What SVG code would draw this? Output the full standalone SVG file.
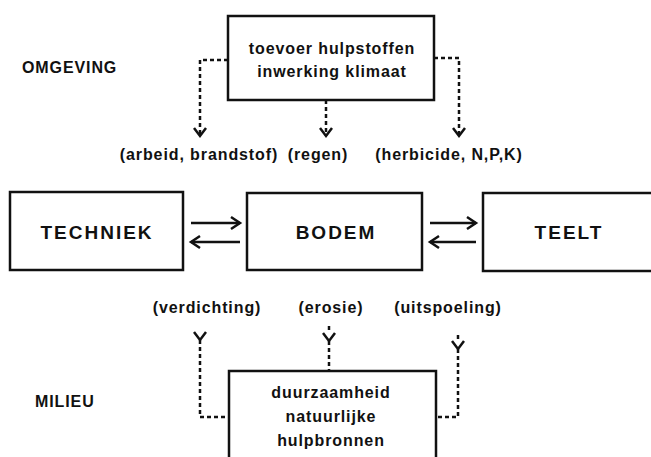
<svg xmlns="http://www.w3.org/2000/svg" width="651" height="457" viewBox="0 0 651 457">
<style>
  text { font-family: "Liberation Sans", Arial, sans-serif; font-weight: bold; fill: #111; }
  .s { font-size: 16px; letter-spacing: 0.9px; }
  .b { font-size: 19px; letter-spacing: 2px; }
  .box { fill: #fff; stroke: #111; stroke-width: 2.5; }
  .dash { fill: none; stroke: #111; stroke-width: 2.5; stroke-dasharray: 4 3; }
  .solid { fill: none; stroke: #111; stroke-width: 2.5; }
</style>
<defs>
  <marker id="chev" markerUnits="userSpaceOnUse" markerWidth="14" markerHeight="16" refX="9" refY="7" orient="auto" overflow="visible">
    <path d="M1,1 L9,7 L1,13" fill="none" stroke="#111" stroke-width="2.5"/>
  </marker>
  <marker id="arr" markerUnits="userSpaceOnUse" markerWidth="14" markerHeight="16" refX="10" refY="7" orient="auto" overflow="visible">
    <path d="M1,1 L10,7 L1,13" fill="none" stroke="#111" stroke-width="2.5"/>
  </marker>
</defs>

<text class="s" x="22" y="73">OMGEVING</text>
<text class="s" x="35" y="407">MILIEU</text>

<g id="connectors">
  <path class="dash" d="M228,60 H200 V136" marker-end="url(#chev)"/>
  <path class="dash" d="M326,100 V136" marker-end="url(#chev)"/>
  <path class="dash" d="M434,58 H459 V136" marker-end="url(#chev)"/>
  <path class="dash" d="M200,340 V417 H229" marker-start="url(#chev)"/>
  <path class="dash" d="M329,341 V371" marker-start="url(#chev)"/>
  <path class="dash" d="M458,349 V417 H436" marker-start="url(#chev)"/>
  <path class="dash" d="M329,326 V332"/>
  <path class="dash" d="M458,335 V340"/>
  <path class="solid" d="M191,223 H240" marker-end="url(#arr)"/>
  <path class="solid" d="M240,242 H191" marker-end="url(#arr)"/>
  <path class="solid" d="M430,223 H476" marker-end="url(#arr)"/>
  <path class="solid" d="M476,242 H430" marker-end="url(#arr)"/>
</g>

<g id="omgeving-box">
  <rect class="box" x="228" y="16" width="206" height="84"/>
  <text class="s" x="332" y="54" text-anchor="middle">toevoer hulpstoffen</text>
  <text class="s" x="332" y="77" text-anchor="middle">inwerking klimaat</text>
</g>

<g id="label-arbeid"><text class="s" x="199" y="160" text-anchor="middle">(arbeid, brandstof)</text></g>
<g id="label-regen"><text class="s" x="318" y="160" text-anchor="middle">(regen)</text></g>
<g id="label-herbicide"><text class="s" x="449" y="160" text-anchor="middle">(herbicide, N,P,K)</text></g>

<g id="techniek">
  <rect class="box" x="10" y="192" width="173" height="78"/>
  <text class="b" x="97" y="239" text-anchor="middle">TECHNIEK</text>
</g>
<g id="bodem">
  <rect class="box" x="247" y="193" width="175" height="77"/>
  <text class="b" x="336" y="239" text-anchor="middle">BODEM</text>
</g>
<g id="teelt">
  <rect class="box" x="483" y="193" width="185" height="78"/>
  <text class="b" x="569" y="239" text-anchor="middle">TEELT</text>
</g>

<g id="label-verdichting"><text class="s" x="207" y="313" text-anchor="middle">(verdichting)</text></g>
<g id="label-erosie"><text class="s" x="331" y="313" text-anchor="middle">(erosie)</text></g>
<g id="label-uitspoeling"><text class="s" x="448" y="313" text-anchor="middle">(uitspoeling)</text></g>

<g id="milieu-box">
  <rect class="box" x="229" y="371" width="207" height="100"/>
  <text class="s" x="331" y="398" text-anchor="middle">duurzaamheid</text>
  <text class="s" x="331" y="422" text-anchor="middle">natuurlijke</text>
  <text class="s" x="331" y="446" text-anchor="middle">hulpbronnen</text>
</g>
</svg>
